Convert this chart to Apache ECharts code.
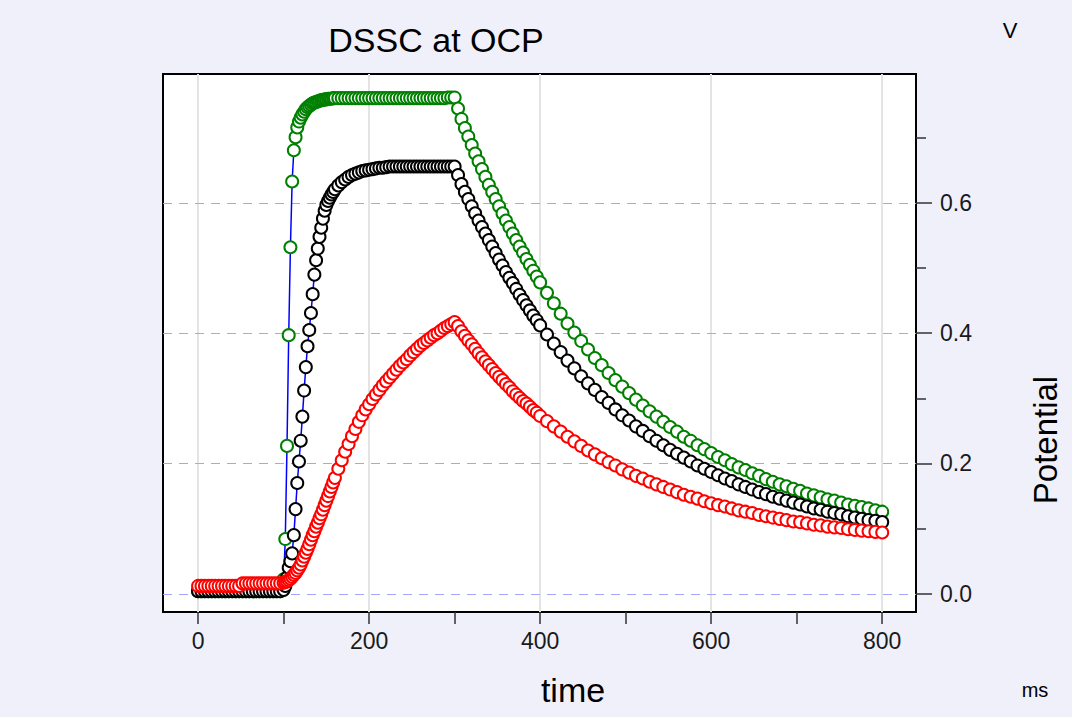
<!DOCTYPE html>
<html>
<head>
<meta charset="utf-8">
<script src="https://cdn.jsdelivr.net/npm/echarts@6/dist/echarts.min.js"></script>
<style>
html,body{margin:0;padding:0;background:#f0f0fb;}
#chart{width:1072px;height:717px;}
</style>
</head>
<body>
<div id="chart"></div>
<script>
// time (ms)
const time = [0,4,8,12,16,20,24,28,32,36,40,44,48,52,56,60,64,68,72,76,80,84,88,92,96,
100,102,104,106,108,110,112,114,116,118,120,122,124,126,128,130,132,134,136,138,140,142,144,146,148,150,152,154,156,158,
160,164,168,172,176,180,184,188,192,196,200,204,208,212,216,220,224,228,232,236,240,244,248,252,256,260,264,268,272,276,280,284,288,292,296,
300,304,308,312,316,320,324,328,332,336,340,344,348,352,356,360,364,368,372,376,380,384,388,392,396,
400,408,416,424,432,440,448,456,464,472,480,488,496,504,512,520,528,536,544,552,560,568,576,584,592,600,608,616,624,632,640,648,656,664,672,680,688,696,704,712,720,728,736,744,752,760,768,776,784,792,800];

// green series potential (V)
const greenV = [0.004,0.004,0.004,0.004,0.004,0.004,0.004,0.004,0.004,0.004,0.004,0.004,0.004,0.004,0.004,0.004,0.004,0.004,0.004,0.004,0.004,0.004,0.004,0.004,0.004,
0.022,0.084,0.227,0.397,0.532,0.633,0.681,0.701,0.716,0.725,0.731,0.736,0.740,0.744,0.747,0.749,0.751,0.753,0.754,0.755,0.756,0.757,0.758,0.758,0.759,0.759,0.760,0.760,0.760,0.761,
0.761,0.761,0.761,0.761,0.761,0.761,0.761,0.761,0.761,0.761,0.761,0.761,0.761,0.761,0.761,0.761,0.761,0.761,0.761,0.761,0.761,0.761,0.761,0.761,0.761,0.761,0.761,0.761,0.761,0.761,0.761,0.761,0.761,0.762,0.762,
0.762,0.745,0.729,0.715,0.702,0.689,0.676,0.664,0.652,0.640,0.628,0.617,0.606,0.595,0.584,0.573,0.563,0.553,0.543,0.533,0.524,0.514,0.505,0.496,0.487,
0.478,0.462,0.446,0.430,0.415,0.401,0.388,0.375,0.362,0.351,0.339,0.328,0.318,0.308,0.298,0.289,0.280,0.272,0.264,0.256,0.249,0.241,0.235,0.228,0.222,0.216,0.210,0.205,0.199,0.194,0.190,0.185,0.181,0.176,0.172,0.168,0.165,0.161,0.158,0.154,0.151,0.148,0.145,0.143,0.140,0.137,0.135,0.133,0.131,0.128,0.126];

// black series potential (V)
const blackV = [0.004,0.004,0.004,0.004,0.004,0.004,0.004,0.004,0.004,0.004,0.004,0.004,0.004,0.004,0.004,0.004,0.004,0.004,0.004,0.004,0.004,0.004,0.004,0.004,0.004,
0.006,0.012,0.025,0.040,0.050,0.062,0.090,0.130,0.170,0.203,0.235,0.272,0.312,0.348,0.380,0.405,0.431,0.460,0.490,0.512,0.530,0.548,0.562,0.576,0.588,0.597,0.603,0.608,0.613,0.617,
0.621,0.627,0.632,0.636,0.640,0.643,0.645,0.647,0.649,0.650,0.651,0.652,0.653,0.654,0.654,0.655,0.656,0.656,0.656,0.656,0.656,0.656,0.656,0.656,0.656,0.656,0.656,0.656,0.656,0.656,0.656,0.656,0.656,0.656,0.656,
0.656,0.643,0.629,0.617,0.606,0.595,0.584,0.573,0.563,0.553,0.543,0.533,0.523,0.513,0.504,0.494,0.485,0.477,0.468,0.459,0.451,0.443,0.435,0.427,0.420,
0.412,0.398,0.384,0.371,0.358,0.346,0.334,0.323,0.313,0.302,0.293,0.283,0.274,0.266,0.257,0.250,0.242,0.235,0.228,0.221,0.215,0.209,0.203,0.197,0.192,0.187,0.182,0.177,0.173,0.168,0.164,0.160,0.156,0.153,0.149,0.146,0.143,0.140,0.137,0.134,0.131,0.129,0.126,0.124,0.122,0.119,0.117,0.115,0.113,0.112,0.110];

// red series potential (V)
const redV = [0.012,0.012,0.012,0.012,0.012,0.012,0.012,0.012,0.012,0.012,0.012,0.012,0.012,0.016,0.016,0.016,0.016,0.016,0.016,0.016,0.016,0.016,0.016,0.016,0.016,
0.017,0.018,0.019,0.021,0.023,0.026,0.029,0.032,0.036,0.040,0.045,0.051,0.057,0.063,0.069,0.076,0.083,0.090,0.096,0.103,0.109,0.116,0.122,0.129,0.136,0.143,0.150,0.157,0.164,0.171,
0.178,0.192,0.205,0.218,0.230,0.242,0.253,0.264,0.274,0.283,0.291,0.299,0.306,0.313,0.320,0.326,0.332,0.338,0.344,0.350,0.355,0.360,0.366,0.371,0.376,0.381,0.385,0.389,0.393,0.397,0.400,0.404,0.408,0.411,0.414,
0.417,0.411,0.403,0.396,0.389,0.383,0.376,0.369,0.363,0.357,0.351,0.345,0.339,0.333,0.328,0.322,0.317,0.311,0.306,0.301,0.296,0.292,0.287,0.282,0.278,
0.273,0.265,0.257,0.249,0.241,0.234,0.227,0.220,0.214,0.208,0.202,0.197,0.191,0.186,0.181,0.177,0.172,0.168,0.164,0.160,0.156,0.152,0.149,0.146,0.142,0.139,0.136,0.134,0.131,0.128,0.126,0.124,0.121,0.119,0.117,0.115,0.113,0.111,0.110,0.108,0.106,0.105,0.103,0.102,0.101,0.099,0.098,0.097,0.096,0.095,0.094];

// axis ticks / labels
const xMajor = [0,200,400,600,800];
const xMinor = [100,300,500,700];
const yMajor = [0,0.2,0.4,0.6];
const yMinor = [0.1,0.3,0.5,0.7];

const FONT = '"Liberation Sans", Arial, sans-serif';
const chart = echarts.init(document.getElementById('chart'), null, {renderer:'svg'});

function mk(vals){ return time.map((t,i)=>[t, vals[i]]); }
function series(name, vals, color){
  return {
    name, type:'line', data: mk(vals), xAxisIndex:0, yAxisIndex:0, z:3,
    symbol:'circle', symbolSize:12, showAllSymbol:true,
    lineStyle:{color:'#0000ff', width:1.5},
    itemStyle:{color:'#ffffff', borderColor:color, borderWidth:2},
    emphasis:{disabled:true}, animation:false
  };
}

const xCommon = {type:'value', min:-41, max:839.5, position:'bottom', axisLine:{show:false, onZero:false}};
const yCommon = {type:'value', min:-0.028, max:0.798, position:'right', axisLine:{show:false, onZero:false}};
const tickStyle = {color:'#333', width:1.5};

chart.setOption({
  backgroundColor:'#f0f0fb',
  animation:false,
  grid:{left:163, right:156, top:74, bottom:105, show:true, backgroundColor:'#ffffff', borderColor:'#000000', borderWidth:2},
  xAxis:[
    Object.assign({}, xCommon, {
      axisTick:{show:true, customValues:xMajor, length:12, lineStyle:tickStyle},
      axisLabel:{show:true, customValues:xMajor, margin:17, fontSize:23, color:'#1a1a1a', fontFamily:FONT},
      splitLine:{show:true, lineStyle:{color:'#e4e4e4', width:2, type:'solid'}}
    }),
    Object.assign({}, xCommon, {
      axisTick:{show:true, customValues:xMinor, length:12, lineStyle:tickStyle},
      axisLabel:{show:false},
      splitLine:{show:false}
    })
  ],
  yAxis:[
    Object.assign({}, yCommon, {
      axisTick:{show:true, customValues:yMajor, length:16, lineStyle:tickStyle},
      axisLabel:{show:true, customValues:yMajor, margin:24, fontSize:23, color:'#1a1a1a', fontFamily:FONT,
        formatter:(v)=>Number(v).toFixed(1)},
      splitLine:{show:false}
    }),
    Object.assign({}, yCommon, {
      axisTick:{show:true, customValues:yMinor, length:10, lineStyle:tickStyle},
      axisLabel:{show:false},
      splitLine:{show:false}
    })
  ],
  series:[
    {
      name:'grid', type:'line', data:[], xAxisIndex:0, yAxisIndex:0, z:1, silent:true,
      markLine:{
        silent:true, z:1, symbol:['none','none'], label:{show:false}, animation:false,
        lineStyle:{color:'#a4a4fa', width:1, type:[9,7]},
        emphasis:{disabled:true},
        data: yMajor.map(v=>({yAxis:v}))
      }
    },
    series('green', greenV, '#008000'),
    series('black', blackV, '#000000'),
    series('red', redV, '#ff0000')
  ],
  graphic:[
    {type:'text', x:436, y:40, style:{text:'DSSC at OCP', font:'34px '+FONT, fill:'#000', textAlign:'center', textVerticalAlign:'middle', align:'center', verticalAlign:'middle'}},
    {type:'text', x:1010, y:30, style:{text:'V', font:'22px '+FONT, fill:'#000', textAlign:'center', textVerticalAlign:'middle', align:'center', verticalAlign:'middle'}},
    {type:'text', x:573, y:690, style:{text:'time', font:'34px '+FONT, fill:'#000', textAlign:'center', textVerticalAlign:'middle', align:'center', verticalAlign:'middle'}},
    {type:'text', x:1035, y:690, style:{text:'ms', font:'20px '+FONT, fill:'#000', textAlign:'center', textVerticalAlign:'middle', align:'center', verticalAlign:'middle'}},
    {type:'text', x:1045, y:440, rotation:Math.PI/2, style:{text:'Potential', font:'33px '+FONT, fill:'#000', textAlign:'center', textVerticalAlign:'middle', align:'center', verticalAlign:'middle'}}
  ]
});
</script>
</body>
</html>
